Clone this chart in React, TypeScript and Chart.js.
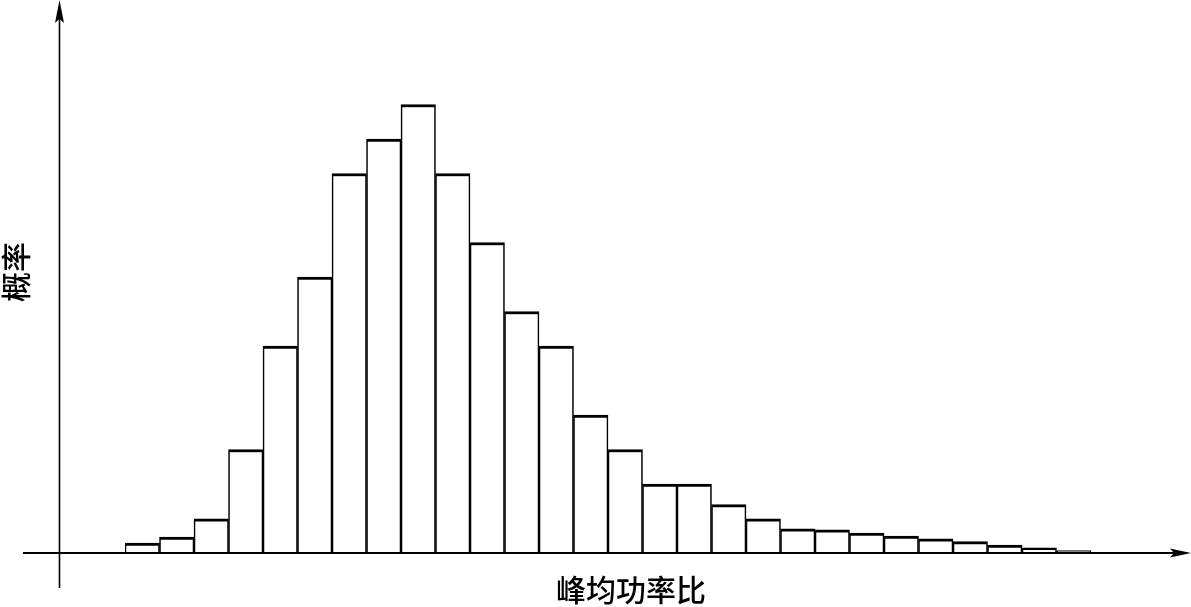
import React, { useEffect, useRef } from "react";
import { Chart, registerables } from "chart.js";

Chart.register(...registerables);

// Peak-to-average power ratio bins (unitless index) and probability (relative units)
const binLabels: string[] = [
  "1", "2", "3", "4", "5", "6", "7", "8", "9", "10", "11", "12", "13", "14",
  "15", "16", "17", "18", "19", "20", "21", "22", "23", "24", "25", "26", "27", "28",
];
const probability: number[] = [
  0.29, 0.46, 0.99, 3.0, 6.0, 8.0, 11.0, 12.0, 13.0, 11.0, 9.0, 7.0, 6.0, 4.0,
  3.0, 2.0, 2.0, 1.4, 0.99, 0.7, 0.67, 0.58, 0.49, 0.41, 0.33, 0.23, 0.15, 0.07,
];
const yMax = 16;
const xTitle = "峰均功率比";
const yTitle = "概率";

const axesPlugin = {
  id: "arrowAxes",
  afterDatasetsDraw(chart: any) {
    const ctx = chart.ctx as CanvasRenderingContext2D;
    const yScale = chart.scales.y;
    const base = yScale.getPixelForValue(0);
    const axisX = 59.5;
    ctx.save();
    ctx.strokeStyle = "#000";
    ctx.fillStyle = "#000";
    ctx.lineWidth = 2;
    // x axis
    ctx.beginPath();
    ctx.moveTo(23, base);
    ctx.lineTo(1180, base);
    ctx.stroke();
    ctx.beginPath();
    ctx.moveTo(1191, base);
    ctx.lineTo(1170, base - 4.5);
    ctx.lineTo(1174, base);
    ctx.lineTo(1170, base + 4.5);
    ctx.closePath();
    ctx.fill();
    // y axis
    ctx.lineWidth = 1.6;
    ctx.beginPath();
    ctx.moveTo(axisX, 588);
    ctx.lineTo(axisX, 12);
    ctx.stroke();
    ctx.beginPath();
    ctx.moveTo(axisX, 0);
    ctx.lineTo(axisX - 4.5, 23);
    ctx.lineTo(axisX, 19);
    ctx.lineTo(axisX + 4.5, 23);
    ctx.closePath();
    ctx.fill();
    // titles
    ctx.font = '500 30px "Noto Sans CJK SC"';
    ctx.textAlign = "center";
    ctx.textBaseline = "middle";
    ctx.fillText(xTitle, 631, 590);
    ctx.translate(16, 272);
    ctx.rotate(-Math.PI / 2);
    ctx.fillText(yTitle, 0, 0);
    ctx.restore();
  },
};

export default function App() {
  const canvasRef = useRef<HTMLCanvasElement | null>(null);

  useEffect(() => {
    if (!canvasRef.current) return;
    const chart = new Chart(canvasRef.current, {
      type: "bar",
      data: {
        labels: binLabels,
        datasets: [
          {
            data: probability,
            backgroundColor: "#ffffff",
            borderColor: "#000000",
            borderWidth: { top: 3, left: 1.6, right: 1.6, bottom: 0 },
            borderSkipped: false,
            categoryPercentage: 1,
            barPercentage: 1,
          },
        ],
      },
      options: {
        animation: false,
        responsive: false,
        maintainAspectRatio: false,
        events: [],
        layout: { padding: { left: 125, right: 100, top: 1, bottom: 54 } },
        plugins: { legend: { display: false }, tooltip: { enabled: false } },
        scales: {
          x: { display: false, offset: true, grid: { display: false } },
          y: { display: false, min: 0, max: yMax, grid: { display: false } },
        },
      },
      plugins: [axesPlugin],
    });
    return () => chart.destroy();
  }, []);

  return (
    <div style={{ position: "fixed", left: 0, top: 0, width: 1191, height: 607, background: "#fff" }}>
      <canvas ref={canvasRef} width={1191} height={607} style={{ display: "block" }} />
    </div>
  );
}
